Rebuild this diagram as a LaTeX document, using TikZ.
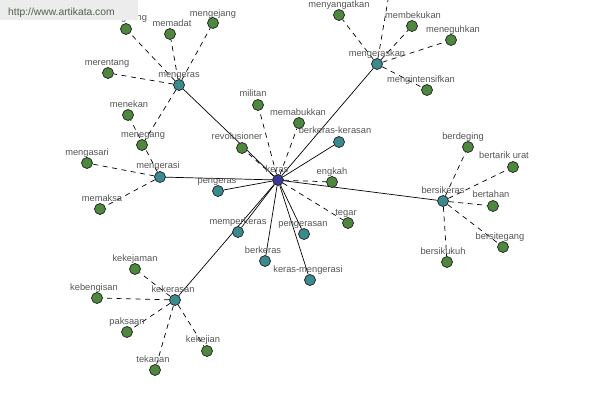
\documentclass[tikz,border=0pt]{standalone}
\usepackage{fontspec}
\setmainfont{Liberation Sans}
\usetikzlibrary{backgrounds}
\definecolor{kerasc}{RGB}{58,58,150}
\definecolor{tealc}{RGB}{58,138,142}
\definecolor{greenc}{RGB}{78,136,62}
\definecolor{outl}{RGB}{30,30,30}
\definecolor{lblc}{RGB}{85,85,85}
\definecolor{wmbox}{RGB}{236,236,236}
\definecolor{wmtext}{RGB}{80,96,76}
\newcommand\nd[7]{\node[#1] (#2) at (#3,#4) {}; \node[lbl] (#2-l) at (#5,#6+3.5) {#7};}
\begin{document}
\begin{tikzpicture}[x=1pt,y=-1pt,
  dot/.style={circle,draw=outl,line width=0.7pt,minimum size=11pt,inner sep=0pt},
  kn/.style={dot,fill=kerasc},
  tn/.style={dot,fill=tealc},
  gn/.style={dot,fill=greenc},
  lbl/.style={anchor=base,inner sep=0pt,text=lblc,font=\fontsize{9.3}{10}\selectfont},
  sedge/.style={draw=black,line width=0.7pt},
  dedge/.style={draw=black,line width=0.7pt,dash pattern=on 5pt off 4.5pt}]
\useasboundingbox (0,0) rectangle (600,400);
% centre
\nd{kn}{keras}{278}{180}{277}{169}{keras}
% teal nodes
\nd{tn}{mengeras}{179}{85}{179}{74}{mengeras}
\nd{tn}{mengeraskan}{377}{64}{377}{53}{mengeraskan}
\nd{tn}{mengerasi}{160}{177}{158}{165}{mengerasi}
\nd{tn}{pengeras}{218}{191}{217}{180}{pengeras}
\nd{tn}{bkk}{339}{142}{335}{130}{berkeras-kerasan}
\nd{tn}{bersikeras}{443}{201}{443}{190}{bersikeras}
\nd{tn}{memperkeras}{238}{232}{238}{221}{memperkeras}
\nd{tn}{pengerasan}{304}{234}{303}{223}{pengerasan}
\nd{tn}{berkeras}{265}{261}{263}{250}{berkeras}
\nd{tn}{kmeng}{310}{280}{308}{269}{keras-mengerasi}
\nd{tn}{kekerasan}{175}{300}{173}{289}{kekerasan}
% green nodes
\nd{gn}{hidden}{126}{29}{125}{17}{mengering}
\nd{gn}{memadat}{170}{34}{172}{23}{memadat}
\nd{gn}{mengejang}{213}{23}{213}{13}{mengejang}
\nd{gn}{merentang}{108}{73}{107}{62}{merentang}
\nd{gn}{menekan}{128}{115}{129}{104}{menekan}
\nd{gn}{menegang}{142}{145}{143}{134}{menegang}
\nd{gn}{mengasari}{87}{163}{87}{152}{mengasari}
\nd{gn}{memaksa}{100}{209}{102}{198}{memaksa}
\nd{gn}{militan}{258}{105}{253}{93}{militan}
\nd{gn}{revolusioner}{242}{148}{237}{136}{revolusioner}
\nd{gn}{memabukkan}{299}{123}{298}{112}{memabukkan}
\nd{gn}{engkah}{332}{182}{332}{171}{engkah}
\nd{gn}{tegar}{348}{223}{346}{212}{tegar}
\nd{gn}{menyangatkan}{339}{15}{339}{4}{menyangatkan}
\nd{gn}{membekukan}{412}{26}{413}{15}{membekukan}
\nd{gn}{meneguhkan}{451}{40}{453}{29}{meneguhkan}
\nd{gn}{mengintensifkan}{427}{90}{421}{79}{mengintensifkan}
\nd{gn}{berdeging}{468}{147}{463}{136}{berdeging}
\nd{gn}{bertarikurat}{513}{167}{504}{155}{bertarik urat}
\nd{gn}{bertahan}{493}{206}{491}{194}{bertahan}
\nd{gn}{bersitegang}{503}{247}{500}{236}{bersitegang}
\nd{gn}{bersikukuh}{447}{262}{443}{251}{bersikukuh}
\nd{gn}{kekejaman}{135}{269}{135}{258}{kekejaman}
\nd{gn}{kebengisan}{97}{298}{94}{287}{kebengisan}
\nd{gn}{paksaan}{127}{332}{127}{321}{paksaan}
\nd{gn}{kekejian}{207}{351}{203}{339}{kekejian}
\nd{gn}{tekanan}{155}{370}{153}{359}{tekanan}
\coordinate (offtop) at (388,0);
\begin{scope}[on background layer]
\fill[white] (0,0) rectangle (600,400);
% solid edges from keras
\foreach \t in {mengeras,mengeraskan,mengerasi,pengeras,bkk,bersikeras,memperkeras,pengerasan,berkeras,kmeng,kekerasan}
  \draw[sedge] (keras) -- (\t);
% dashed edges
\foreach \t in {militan,revolusioner,memabukkan,engkah,tegar}
  \draw[dedge] (keras) -- (\t);
\foreach \t in {hidden,memadat,mengejang,merentang,menegang}
  \draw[dedge] (mengeras) -- (\t);
\foreach \t in {menyangatkan,offtop,membekukan,meneguhkan,mengintensifkan}
  \draw[dedge] (mengeraskan) -- (\t);
\foreach \t in {mengasari,memaksa,menekan}
  \draw[dedge] (mengerasi) -- (\t);
\foreach \t in {berdeging,bertarikurat,bertahan,bersitegang,bersikukuh}
  \draw[dedge] (bersikeras) -- (\t);
\foreach \t in {kekejaman,kebengisan,paksaan,tekanan,kekejian}
  \draw[dedge] (kekerasan) -- (\t);
\end{scope}
% watermark
\fill[wmbox] (0,0) rectangle (138,20);
\node[anchor=base west,inner sep=0pt,text=wmtext,font=\fontsize{10.3}{12}\selectfont] (wm) at (8,15.5) {http://www.artikata.com};
\end{tikzpicture}
\end{document}
